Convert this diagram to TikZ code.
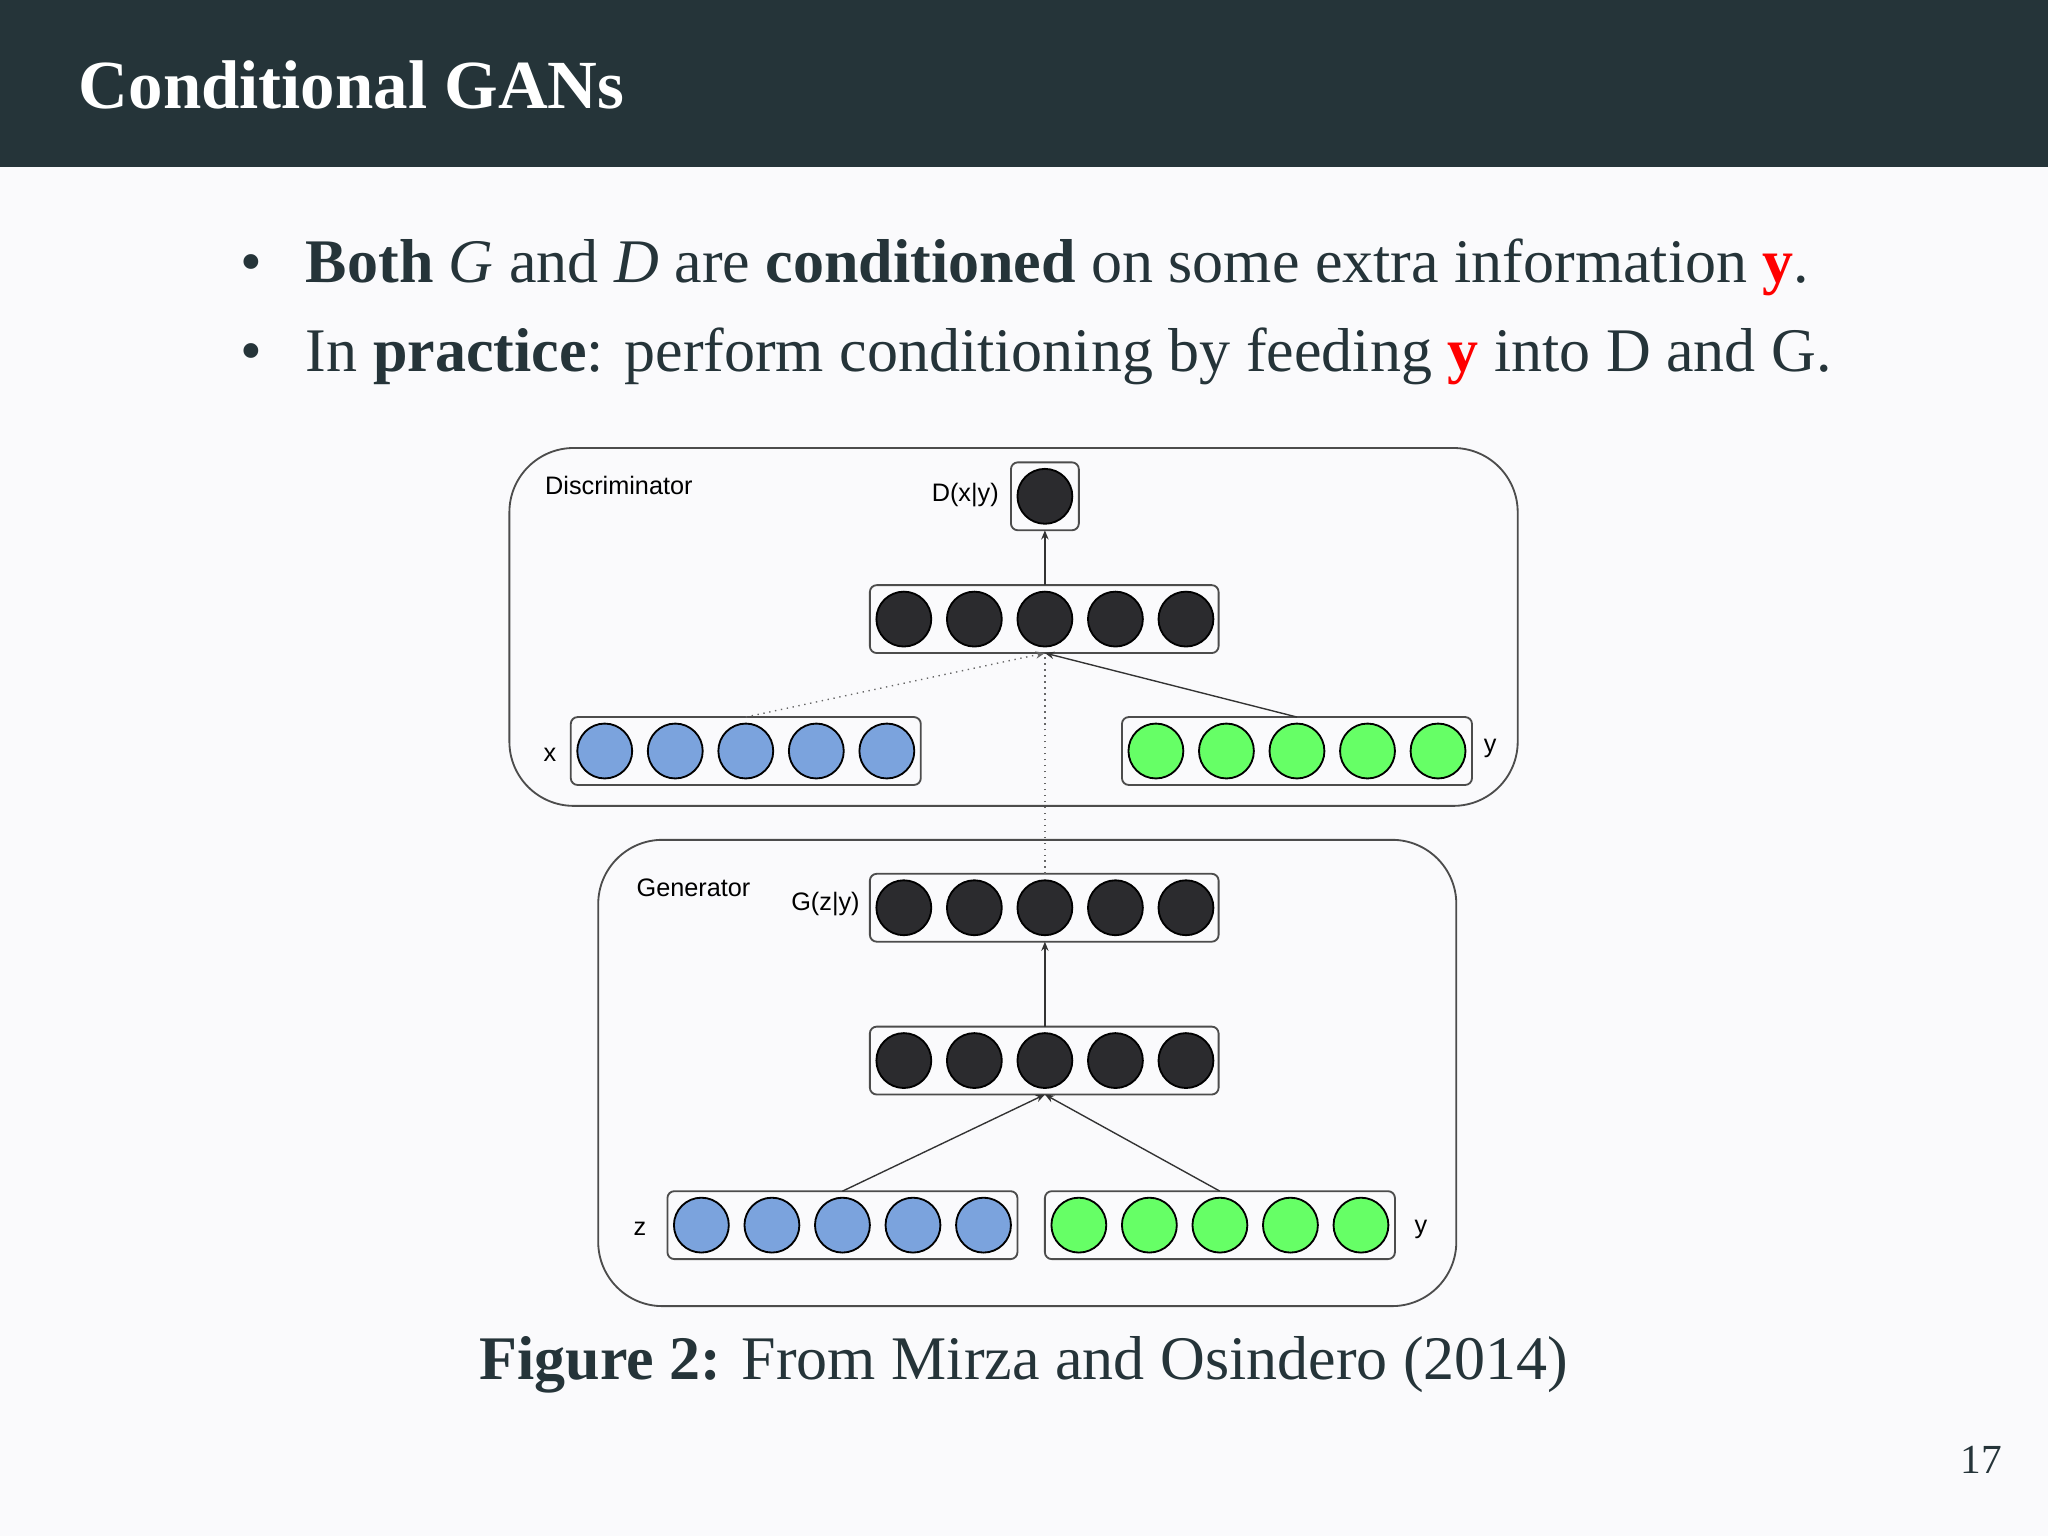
\documentclass[tikz,border=0pt]{standalone}
\usepackage{fontspec}
\setmainfont{Liberation Serif}
\newfontfamily\diag{Liberation Sans}
\definecolor{hdr}{HTML}{253439}
\definecolor{bgc}{HTML}{FAFAFC}
\definecolor{blu}{HTML}{7BA3DD}
\definecolor{grn}{HTML}{66FF66}
\definecolor{drk}{HTML}{2B2B2E}
\usetikzlibrary{arrows.meta}
\tikzset{
 panel/.style={draw=black!70,line width=0.4pt,rounded corners=14pt},
 layer/.style={draw=black!70,line width=0.4pt,rounded corners=1.5pt},
 neu/.style={circle,draw=black,line width=0.4pt,minimum size=0.42cm,inner sep=0},
 lbl/.style={font=\diag\fontsize{5.5}{6}\selectfont,text=black},
 arr/.style={-{Stealth[length=2pt,width=1.6pt]},line width=0.3pt,draw=black!80},
 dots/.style={densely dotted,line width=0.3pt,draw=black!60}
}
\begin{document}
\begin{tikzpicture}[x=0.01cm,y=-0.01cm]
\fill[bgc] (0,0) rectangle (1568,1176);
\useasboundingbox (0,0) rectangle (1568,1176);
\fill[hdr] (0,0) rectangle (1568,128);
\node[anchor=west,text=white,font=\fontsize{15}{18}\selectfont\bfseries] (title) at (48,65) {Conditional GANs};
\node[anchor=west,text=hdr,font=\fontsize{13.5}{16}\selectfont] (b1) at (172,205) {\textbullet\hspace{0.7em}\textbf{Both} \textit{G} and \textit{D} are \textbf{conditioned} on some extra information \textcolor{red}{\textbf{y}}.};
\node[anchor=west,text=hdr,font=\fontsize{13.5}{16}\selectfont] (b2) at (172,273) {\textbullet\hspace{0.7em}In \textbf{practice}: perform conditioning by feeding \textcolor{red}{\textbf{y}} into D and G.};
% Discriminator
\draw[panel] (390,343) rectangle (1162,617);
\node[lbl,anchor=west] (dl) at (405,372) {Discriminator};
\node[lbl] (dxy) at (739,379) {D(x|y)};
\draw[layer] (774,354) rectangle (826,406);
\node[neu,fill=drk] (dout) at (800,380) {};
\draw[layer] (666,448) rectangle (933,500);
\foreach \i/\x in {1/692,2/746,3/800,4/854,5/908} \node[neu,fill=drk] (dh\i) at (\x,474) {};
\draw[layer] (437,549) rectangle (705,601);
\foreach \i/\x in {1/463,2/517,3/571,4/625,5/679} \node[neu,fill=blu] (dx\i) at (\x,575) {};
\node[lbl] (xl) at (421,578) {x};
\draw[layer] (859,549) rectangle (1127,601);
\foreach \i/\x in {1/885,2/939,3/993,4/1047,5/1101} \node[neu,fill=grn] (dy\i) at (\x,575) {};
\node[lbl] (yl1) at (1141,573) {y};
\coordinate (dhb) at (800,500);
\coordinate (dht) at (800,448);
\coordinate (dob) at (800,406);
\coordinate (dxt) at (571,549);
\coordinate (dyt) at (993,549);
\draw[dots,-{Stealth[length=2pt,width=1.6pt]}] (dxt) -- (dhb);
\draw[arr] (dyt) -- (dhb);
\draw[arr] (dht) -- (dob);
% Generator
\draw[panel] (458,643) rectangle (1115,1000);
\node[lbl,anchor=west] (gl) at (475,680) {Generator};
\node[lbl] (gzy) at (632,692) {G(z|y)};
\draw[layer] (666,669) rectangle (933,721);
\foreach \i/\x in {1/692,2/746,3/800,4/854,5/908} \node[neu,fill=drk] (go\i) at (\x,695) {};
\draw[layer] (666,786) rectangle (933,838);
\foreach \i/\x in {1/692,2/746,3/800,4/854,5/908} \node[neu,fill=drk] (gh\i) at (\x,812) {};
\draw[layer] (511,912) rectangle (779,964);
\foreach \i/\x in {1/537,2/591,3/645,4/699,5/753} \node[neu,fill=blu] (gz\i) at (\x,938) {};
\node[lbl] (zl) at (490,941) {z};
\draw[layer] (800,912) rectangle (1068,964);
\foreach \i/\x in {1/826,2/880,3/934,4/988,5/1042} \node[neu,fill=grn] (gy\i) at (\x,938) {};
\node[lbl] (yl2) at (1088,941) {y};
\coordinate (got) at (800,669);
\coordinate (gob) at (800,721);
\coordinate (ght) at (800,786);
\coordinate (ghb) at (800,838);
\coordinate (gzt) at (645,912);
\coordinate (gyt) at (934,912);
\draw[arr] (gzt) -- (ghb);
\draw[arr] (gyt) -- (ghb);
\draw[arr] (ght) -- (gob);
\draw[dots] (got) -- (dhb);
% caption
\node[text=hdr,font=\fontsize{13.5}{16}\selectfont] (cap) at (784,1045) {\textbf{Figure 2:} From Mirza and Osindero (2014)};
\node[text=hdr,font=\fontsize{9}{10}\selectfont] (pg) at (1517,1118) {17};
\end{tikzpicture}
\end{document}
